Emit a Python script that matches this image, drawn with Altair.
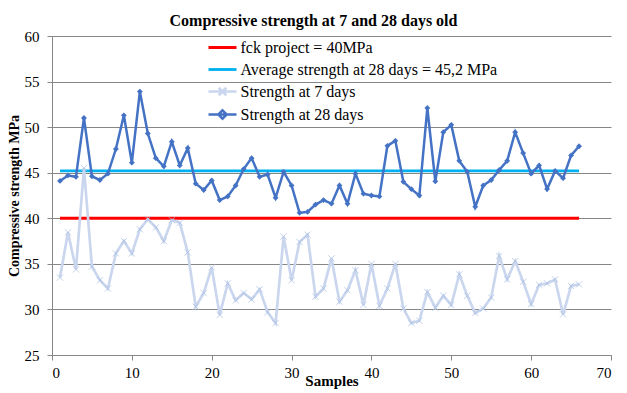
import altair as alt
import pandas as pd

samples = list(range(1, 67))

strength_7 = [33.5, 38.45, 34.4, 45.5, 34.7, 33.2, 32.3, 36.15, 37.5, 36.15,
              38.8, 39.9, 39.0, 37.5, 39.8, 39.5, 36.26, 30.3, 31.8, 34.6,
              29.4, 32.85, 31.0, 31.8, 31.1, 32.2, 29.7, 28.5, 38.0, 33.2,
              37.4, 38.2, 31.4, 32.3, 35.6, 30.85, 32.1, 34.3, 30.5, 35.0,
              30.4, 32.3, 35.0, 30.1, 28.5, 28.76, 31.9, 30.2, 31.5, 30.5,
              33.85, 31.5, 29.6, 30.1, 31.3, 35.86, 33.3, 35.3, 33.04, 30.6,
              32.7, 32.86, 33.3, 29.46, 32.57, 32.75]

strength_28 = [44.1, 44.7, 44.55, 51.0, 44.6, 44.2, 44.9, 47.6, 51.3, 46.1,
               53.9, 49.3, 46.6, 45.7, 48.4, 45.8, 47.7, 43.8, 43.1, 44.15,
               42.0, 42.4, 43.6, 45.4, 46.6, 44.55, 44.8, 42.25, 45.1, 43.6,
               40.6, 40.7, 41.5, 42.0, 41.6, 43.6, 41.6, 44.9, 42.7, 42.5,
               42.4, 47.95, 48.5, 44.0, 43.2, 42.5, 52.1, 44.05, 49.45, 50.25,
               46.3, 45.1, 41.26, 43.6, 44.2, 45.3, 46.3, 49.45, 47.15, 44.9,
               45.8, 43.2, 45.2, 44.4, 46.9, 47.9]

fck_value = 40.0
avg_value = 45.2

series_names = [
    "fck project = 40MPa",
    "Average strength at 28 days = 45,2 MPa",
    "Strength at 7 days",
    "Strength at 28 days",
]
series_colors = ["#FF0000", "#00B0F0", "#C9D6EE", "#4472C4"]
series_widths = [3, 2.5, 2.5, 2]
legend_shapes = [
    "M-1.4,0L1.4,0",
    "M-1.4,0L1.4,0",
    "M-1.4,0L1.4,0M-0.38,-0.38L0.38,0.38M-0.38,0.38L0.38,-0.38",
    "M-1.4,0L1.4,0M0,-0.42L0.42,0L0,0.42L-0.42,0Z",
]

rows = []
for s, v in zip([samples[0], samples[-1]], [fck_value, fck_value]):
    rows.append({"series": series_names[0], "sample": s, "value": v})
for s, v in zip([samples[0], samples[-1]], [avg_value, avg_value]):
    rows.append({"series": series_names[1], "sample": s, "value": v})
for s, v in zip(samples, strength_7):
    rows.append({"series": series_names[2], "sample": s, "value": v})
for s, v in zip(samples, strength_28):
    rows.append({"series": series_names[3], "sample": s, "value": v})
df = pd.DataFrame(rows)

FONT = "Liberation Serif, Times New Roman, serif"

x_enc = alt.X("sample:Q", scale=alt.Scale(domain=[0, 70], nice=False),
              axis=alt.Axis(values=list(range(0, 71, 10)), grid=False,
                            title="Samples", titleY=30, titleBaseline="alphabetic",
                            titleFontSize=15))
y_enc = alt.Y("value:Q", scale=alt.Scale(domain=[25, 60], nice=False),
              axis=alt.Axis(values=list(range(25, 61, 5)), grid=True,
                            title="Compressive strength MPa",
                            titleX=-38, titleY=159.5, titleAngle=-90,
                            titleBaseline="middle", titleAlign="center"))

stroke_scale = alt.Scale(domain=series_names, range=series_colors)

legend_df = df.groupby("series", as_index=False).first()
legend_layer = alt.Chart(legend_df).mark_point(filled=True, opacity=0, size=400).encode(
    x=x_enc, y=y_enc,
    stroke=alt.Stroke("series:N", scale=stroke_scale,
                      legend=alt.Legend(title=None, orient="none", legendX=159, legendY=0,
                                        symbolOpacity=1, symbolStrokeWidth=2.5, symbolSize=400,
                                        labelFont=FONT, labelFontSize=16, labelColor="black",
                                        labelLimit=0, rowPadding=2, labelOffset=6.5, padding=0)),
    fill=alt.Fill("series:N", scale=alt.Scale(domain=series_names, range=series_colors),
                  legend=alt.Legend(title=None)),
    shape=alt.Shape("series:N", scale=alt.Scale(domain=series_names, range=legend_shapes),
                    legend=alt.Legend(title=None)),
)

lines = alt.Chart(df).mark_line().encode(
    x="sample:Q", y="value:Q",
    stroke=alt.Stroke("series:N", scale=stroke_scale),
    strokeWidth=alt.StrokeWidth("series:N", scale=alt.Scale(domain=series_names, range=series_widths),
                                legend=None),
    detail="series:N",
    order="sample:Q",
)

pts7 = alt.Chart(df[df["series"] == series_names[2]]).mark_point(
    shape="M-1,-1L1,1M-1,1L1,-1", size=40, color="#A9BEE4", strokeWidth=1, filled=False
).encode(x="sample:Q", y="value:Q")

pts28 = alt.Chart(df[df["series"] == series_names[3]]).mark_point(
    shape="diamond", size=34, color="#4472C4", filled=True, opacity=1
).encode(x="sample:Q", y="value:Q")

chart = alt.layer(legend_layer, lines, pts7, pts28).properties(
    width=559, height=319,
    title=alt.TitleParams("Compressive strength at 7 and 28 days old", font=FONT, fontSize=16,
                          fontWeight="bold", anchor="middle", color="black", offset=0, dx=-18),
    autosize=alt.AutoSizeParams(type="none"),
    padding={"left": 44, "top": 28, "right": 8, "bottom": 36},
).configure_view(stroke=None).configure_axis(
    domainColor="#868686", gridColor="#868686", tickColor="#868686",
    tickSize=5, labelFont=FONT, labelFontSize=15, labelColor="black", labelPadding=5,
    titleFont=FONT, titleFontSize=14, titleFontWeight="bold", titleColor="black",
).configure_axisY(labelPadding=8)

chart.save("out.html", embed_options={"renderer": "svg", "actions": False})
